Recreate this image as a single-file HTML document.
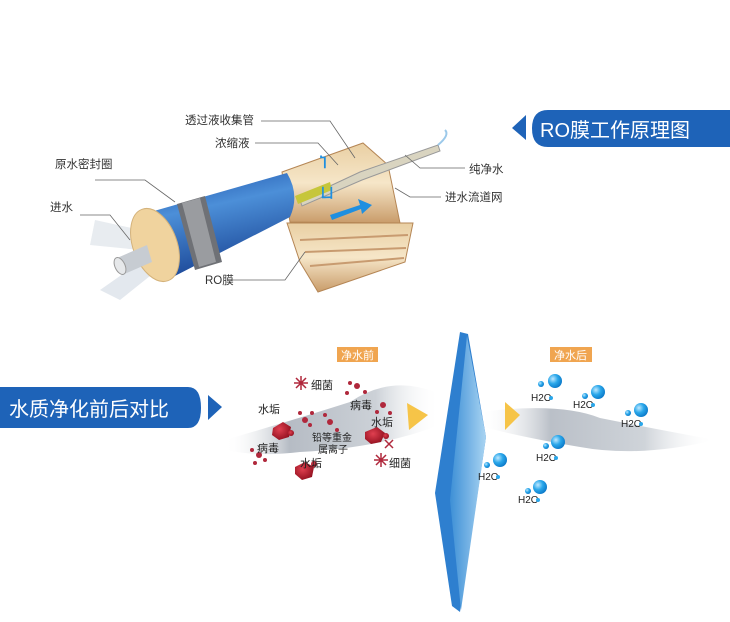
<!DOCTYPE html>
<html><head><meta charset="utf-8"><style>
html,body{margin:0;padding:0;background:#fff;width:730px;height:622px;overflow:hidden}
svg{display:block}
text{font-family:"Liberation Sans","Noto Sans CJK SC",sans-serif}
</style></head><body>
<svg width="730" height="622" viewBox="0 0 730 622" xmlns="http://www.w3.org/2000/svg">
<defs>
<linearGradient id="blue" x1="0" y1="0" x2="0.3" y2="1">
<stop offset="0" stop-color="#1c4fa8"/><stop offset="0.4" stop-color="#4c8fd8"/><stop offset="1" stop-color="#1a4595"/></linearGradient>
<linearGradient id="tan" x1="0" y1="0" x2="0" y2="1">
<stop offset="0" stop-color="#e9cfa3"/><stop offset="0.5" stop-color="#f6e6c8"/><stop offset="1" stop-color="#c99c6a"/></linearGradient>
<linearGradient id="panel" x1="0" y1="0" x2="1" y2="0">
<stop offset="0" stop-color="#3d8fd6"/><stop offset="1" stop-color="#a9d4f2"/></linearGradient>
<linearGradient id="mist" x1="0" y1="0" x2="1" y2="0">
<stop offset="0" stop-color="#fff" stop-opacity="0"/><stop offset="0.3" stop-color="#a9b0ba"/><stop offset="0.7" stop-color="#c3c9d0"/><stop offset="1" stop-color="#fff" stop-opacity="0"/></linearGradient>
<radialGradient id="bub" cx="0.35" cy="0.35" r="0.7"><stop offset="0" stop-color="#bfe8ff"/><stop offset="0.5" stop-color="#2aa7ea"/><stop offset="1" stop-color="#0b78c8"/></radialGradient>
<radialGradient id="red" cx="0.4" cy="0.4" r="0.7"><stop offset="0" stop-color="#e04050"/><stop offset="1" stop-color="#8a0b1a"/></radialGradient>
</defs>

<path d="M95,220 L150,232 L140,250 L90,245Z" fill="#e8ecf0"/>
<path d="M100,290 L150,255 L160,268 L120,300Z" fill="#e3e8ee"/>
<path d="M287,223 L413,223 L405,262 L318,292 L300,262Z" fill="url(#tan)" stroke="#b58655" stroke-width="1"/>
<path d="M300,240 L408,235 M305,252 L406,248 M310,266 L404,258" stroke="#c89b70" stroke-width="2"/>
<path d="M282,172 L363,143 L388,165 L400,223 L290,222Z" fill="url(#tan)" stroke="#b58655" stroke-width="1"/>
<path d="M300,200 L360,172 L438,145 L440,151 L362,180 L302,206Z" fill="#d9d4c0" stroke="#999"/>
<path d="M295,196 L330,182 L332,190 L298,204Z" fill="#c6c63b"/>
<path d="M438,145 Q450,135 445,130" stroke="#9cc9ea" stroke-width="2" fill="none"/>
<path d="M330,215 L360,205 L358,199 L372,205 L362,214 L361,209 L332,220Z" fill="#1f8fe0"/>
<text x="320" y="168" font-size="14" fill="#1f8fe0" font-weight="bold">Ⴈ</text>
<text x="320" y="198" font-size="14" fill="#1f8fe0" font-weight="bold">ㄩ</text>
<path d="M147,213 L287,173 Q300,195 290,217 L167,280Z" fill="url(#blue)"/>
<path d="M177,204 L205,196 L222,262 L195,270Z" fill="#6f7176"/>
<path d="M182,203 L200,198 L216,262 L199,267Z" fill="#9a9ca0"/>
<ellipse cx="155" cy="245" rx="22" ry="38" transform="rotate(-20 155 245)" fill="#f0d39e" stroke="#d4b27a"/>
<path d="M117,258 L147,245 L152,262 L122,275Z" fill="#c7ccd2"/>
<ellipse cx="120" cy="266" rx="5" ry="9" transform="rotate(-25 120 266)" fill="#e6e8ea" stroke="#999"/>

<g font-size="11.5" fill="#333">
<text x="185" y="124">透过液收集管</text>
<text x="215" y="147">浓缩液</text>
<text x="55" y="168">原水密封圈</text>
<text x="50" y="211">进水</text>
<text x="205" y="284">RO膜</text>
<text x="469" y="173">纯净水</text>
<text x="445" y="201">进水流道网</text>
</g>
<g stroke="#666" stroke-width="0.8" fill="none">
<path d="M261,121 L330,121 L355,158"/>
<path d="M255,143 L318,143 L338,165"/>
<path d="M95,180 L145,180 L175,202"/>
<path d="M80,215 L110,215 L130,240"/>
<path d="M232,280 L285,280 L305,252"/>
<path d="M465,168 L420,168 L405,155"/>
<path d="M441,197 L410,197 L395,188"/>
</g>

<path d="M526,115 L526,140 L512,128Z" fill="#1e63b8"/>
<path d="M548,110 L730,110 L730,147 L548,147 Q532,147 532,128.5 Q532,110 548,110Z" fill="#1e63b8"/>
<text x="540" y="137" font-size="20" fill="#fff">RO膜工作原理图</text>

<path d="M0,387 L188,387 Q201,387 201,408 Q201,428 188,428 L0,428Z" fill="#1e63b8"/>
<path d="M208,395 L222,407 L208,420Z" fill="#1e63b8"/>
<text x="9" y="416" font-size="20" fill="#fff">水质净化前后对比</text>

<path d="M225,440 Q300,418 350,402 Q390,375 435,392 L440,425 Q380,448 300,452 Q260,457 225,450Z" fill="url(#mist)" opacity="0.85"/>
<path d="M480,412 Q560,402 600,418 Q650,428 715,440 Q640,458 580,447 Q520,437 480,426Z" fill="url(#mist)" opacity="0.8"/>

<rect x="337" y="347" width="41" height="15" fill="#f0a550"/>
<text x="341" y="359" font-size="11" fill="#fff">净水前</text>
<rect x="550" y="347" width="42" height="15" fill="#f0a550"/>
<text x="554" y="359" font-size="11" fill="#fff">净水后</text>

<path d="M407,403 L428,415 L409,430Z" fill="#f6c448"/>
<path d="M505,402 L520,415 L505,430Z" fill="#f6c448"/>

<path d="M460,332 L468,334 L486,437 L460,612 L452,606 L435,493Z" fill="#2e7fcf"/>
<path d="M467,336 L486,437 L461,610 L450,500 Z" fill="url(#panel)"/>

<g fill="url(#red)">
<path d="M273,428 l10,-6 l8,5 l-2,10 l-10,3 l-7,-5Z"/>
<path d="M295,467 l10,-5 l9,5 l-2,10 l-10,3 l-7,-6Z"/>
<path d="M365,432 l12,-5 l8,6 l-4,9 l-10,2 l-6,-5Z"/>
<circle cx="291" cy="433" r="3"/><circle cx="314" cy="464" r="3"/><circle cx="386" cy="436" r="3"/>
</g>
<g fill="#b0283c">
<circle cx="357" cy="386" r="3"/><circle cx="347" cy="393" r="2"/><circle cx="365" cy="392" r="2"/><circle cx="350" cy="383" r="2"/>
<circle cx="305" cy="420" r="3"/><circle cx="300" cy="413" r="2"/><circle cx="312" cy="413" r="2"/><circle cx="310" cy="425" r="2"/>
<circle cx="330" cy="422" r="3"/><circle cx="325" cy="415" r="2"/><circle cx="337" cy="430" r="2"/>
<circle cx="259" cy="455" r="3"/><circle cx="252" cy="450" r="2"/><circle cx="265" cy="460" r="2"/><circle cx="255" cy="463" r="2"/>
<circle cx="383" cy="405" r="3"/><circle cx="377" cy="412" r="2"/><circle cx="390" cy="413" r="2"/>
</g>
<g stroke="#b0283c" stroke-width="1.5">
<path d="M296,378 l10,10 M306,378 l-10,10 M301,376 v14 M294,383 h14"/>
<path d="M376,455 l10,10 M386,455 l-10,10 M381,453 v14 M374,460 h14"/>
<path d="M385,440 l8,8 M393,440 l-8,8"/>
</g>
<g font-size="11" fill="#222">
<text x="311" y="389">细菌</text>
<text x="258" y="413">水垢</text>
<text x="350" y="409">病毒</text>
<text x="371" y="426">水垢</text>
<text x="312" y="441" font-size="10">铅等重金</text>
<text x="318" y="453" font-size="10">属离子</text>
<text x="257" y="452">病毒</text>
<text x="300" y="467">水垢</text>
<text x="389" y="467">细菌</text>
</g>

<g fill="url(#bub)">
<circle cx="555" cy="381" r="7"/><circle cx="541" cy="384" r="3"/>
<circle cx="598" cy="392" r="7"/><circle cx="585" cy="396" r="3"/>
<circle cx="641" cy="410" r="7"/><circle cx="628" cy="413" r="3"/>
<circle cx="558" cy="442" r="7"/><circle cx="546" cy="446" r="3"/>
<circle cx="500" cy="460" r="7"/><circle cx="487" cy="465" r="3"/>
<circle cx="540" cy="487" r="7"/><circle cx="528" cy="491" r="3"/>
</g>
<g font-size="10" fill="#222">
<text x="531" y="401" font-family="Liberation Serif,serif">H2O</text><circle cx="551" cy="398" r="2" fill="#2aa7ea"/>
<text x="573" y="408" font-family="Liberation Serif,serif">H2O</text><circle cx="593" cy="405" r="2" fill="#2aa7ea"/>
<text x="621" y="427" font-family="Liberation Serif,serif">H2O</text><circle cx="641" cy="424" r="2" fill="#2aa7ea"/>
<text x="536" y="461" font-family="Liberation Serif,serif">H2O</text><circle cx="556" cy="458" r="2" fill="#2aa7ea"/>
<text x="478" y="480" font-family="Liberation Serif,serif">H2O</text><circle cx="498" cy="477" r="2" fill="#2aa7ea"/>
<text x="518" y="503" font-family="Liberation Serif,serif">H2O</text><circle cx="538" cy="500" r="2" fill="#2aa7ea"/>
</g>
</svg>
</body></html>
